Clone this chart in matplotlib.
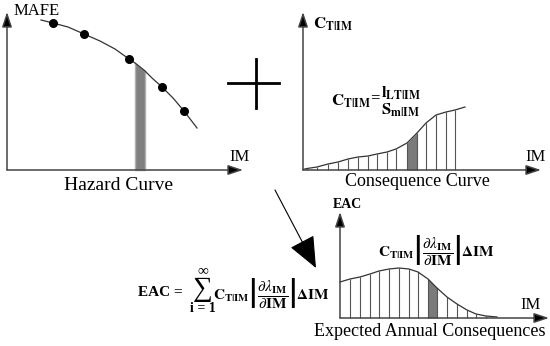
import numpy as np
import matplotlib
matplotlib.use('Agg')
import matplotlib.pyplot as plt

plt.rcParams['font.family'] = ['Liberation Serif', 'DejaVu Serif']
plt.rcParams['mathtext.fontset'] = 'stix'

# Hazard curve (canvas pixel coords, y down)
hazard_x = [41, 53, 68, 84, 100, 115, 129, 135, 145, 152, 162, 173, 184, 197]
hazard_y = [20, 23, 27, 34, 41, 49, 59, 63, 71, 78, 87, 98, 111, 128]
hazard_dots_x = [53, 84, 129, 162, 184]
hazard_dots_y = [23, 34, 59, 87, 111]
hazard_bar = (135, 145)

# Consequence curve
cons_x = [303, 307, 317, 328, 338, 348, 358, 368, 377, 387, 396, 407, 417, 426, 436, 446, 455, 465]
cons_y = [169.5, 168.5, 167, 164, 162, 159, 157, 156, 154, 152, 149, 143, 133, 123, 115, 112, 110, 107]
cons_bar = (407, 417)

# Expected annual consequences curve
eac_x = [340, 350, 360, 370, 379, 389, 399, 409, 418, 428, 437, 447, 457, 467, 476, 486, 497]
eac_y = [282, 279, 277, 274, 271, 269, 268, 269, 272, 279, 288, 297, 304, 310, 314, 316, 317]
eac_bar = (428, 437)

AX_C = '#444444'
LINE_C = '#333333'


def axis_arrows(ax, x0, y0, xend, ytop):
    for tip in [(x0, ytop), (xend, y0)]:
        ax.annotate('', xy=tip, xytext=(x0, y0),
                    arrowprops=dict(arrowstyle='-|>,head_length=0.9,head_width=0.3',
                                    color=AX_C, lw=1.1, fc='black', mutation_scale=10,
                                    shrinkA=0, shrinkB=0))


def main():
    fig = plt.figure(figsize=(5.5, 3.46), dpi=100)
    ax = fig.add_axes([0, 0, 1, 1])
    ax.set_xlim(0, 550)
    ax.set_ylim(346, 0)
    ax.axis('off')

    # --- panel 1: hazard curve
    base1 = 170
    axis_arrows(ax, 7, base1, 243, 12)
    hx = np.array(hazard_x, float)
    hy = np.array(hazard_y, float)
    m = (hx >= hazard_bar[0]) & (hx <= hazard_bar[1])
    ax.fill_between(hx[m], hy[m], base1, color='#808080', edgecolor='#b0b0b0', lw=1)
    ax.plot(hx, hy, color=LINE_C, lw=0.9)
    ax.scatter(hazard_dots_x, hazard_dots_y, s=30, color='black', zorder=3)
    ax.text(14, 11, 'MAFE', fontsize=12, ha='left', va='center')
    ax.text(229, 157, 'IM', fontsize=12, ha='left', va='center')
    ax.text(118, 185, 'Hazard Curve', fontsize=14, ha='center', va='center')

    # plus sign
    ax.plot([228, 279], [83, 83], color='black', lw=2)
    ax.plot([256, 256], [59, 108], color='black', lw=2)

    # --- panel 2: consequence curve
    base2 = 170
    axis_arrows(ax, 303, base2, 541, 12)
    cx = np.array(cons_x, float)
    cy = np.array(cons_y, float)
    m = (cx >= cons_bar[0]) & (cx <= cons_bar[1])
    ax.fill_between(cx[m], cy[m], base2, color='#7a7a7a', lw=0)
    ax.vlines(cx[1:-1], cy[1:-1], base2, color='#555555', lw=0.8)
    ax.plot(cx, cy, color=LINE_C, lw=0.9)
    ax.text(313, 24, r'$\mathbf{C}_{\mathbf{T|IM}}$', fontsize=12, ha='left', va='center')
    ax.text(525, 157, 'IM', fontsize=12, ha='left', va='center')
    ax.text(417, 182, 'Consequence Curve', fontsize=13, ha='center', va='center')
    ax.text(331, 101, r'$\mathbf{C}_{\mathbf{T|IM}}$', fontsize=12, ha='left', va='center')
    ax.text(370, 98, '=', fontsize=12, fontweight='bold', ha='left', va='center')
    ax.text(381, 93, r'$\mathbf{l}_{\mathbf{LT|IM}}$', fontsize=12, ha='left', va='center')
    ax.text(381, 110, r'$\mathbf{S}_{\mathbf{m|IM}}$', fontsize=12, ha='left', va='center')

    # connecting arrow
    ax.annotate('', xy=(316, 268), xytext=(275, 190),
                arrowprops=dict(arrowstyle='-|>,head_length=2.0,head_width=0.85',
                                color='#555555', lw=0.8, fc='black', ec='black',
                                mutation_scale=10, shrinkA=0, shrinkB=0))

    # --- EAC formula
    frac = (r'$\mathbf{C}_{\mathbf{T|IM}}\left|\dfrac{\partial\lambda_{\mathbf{IM}}}'
            r'{\partial\mathbf{IM}}\right|\mathbf{\Delta IM}$')
    ax.text(160, 293, 'EAC =', fontsize=11, fontweight='bold', ha='center', va='center')
    ax.text(203, 290, '\u2211', fontsize=20, ha='center', va='center')
    ax.text(203, 271, '\u221e', fontsize=11, ha='center', va='center')
    ax.text(203, 308, 'i = 1', fontsize=10, fontweight='bold', ha='center', va='center')
    ax.text(213, 293, frac, fontsize=11, ha='left', va='center')

    # --- panel 3: expected annual consequences
    base3 = 318
    axis_arrows(ax, 340, base3, 549, 212)
    ex = np.array(eac_x, float)
    ey = np.array(eac_y, float)
    m = (ex >= eac_bar[0]) & (ex <= eac_bar[1])
    ax.fill_between(ex[m], ey[m], base3, color='#7a7a7a', lw=0)
    ax.vlines(ex[1:-1], ey[1:-1], base3, color='#555555', lw=0.8)
    ax.plot(ex, ey, color=LINE_C, lw=0.9)
    ax.text(333, 205, 'EAC', fontsize=10, fontweight='bold', ha='left', va='center')
    ax.text(520, 305, 'IM', fontsize=12, ha='left', va='center')
    ax.text(430, 331, 'Expected Annual Consequences', fontsize=13, ha='center', va='center')
    ax.text(436, 250, frac, fontsize=11, ha='center', va='center')

    fig.savefig('out.png', dpi=100)
    plt.close(fig)


if __name__ == '__main__':
    main()
